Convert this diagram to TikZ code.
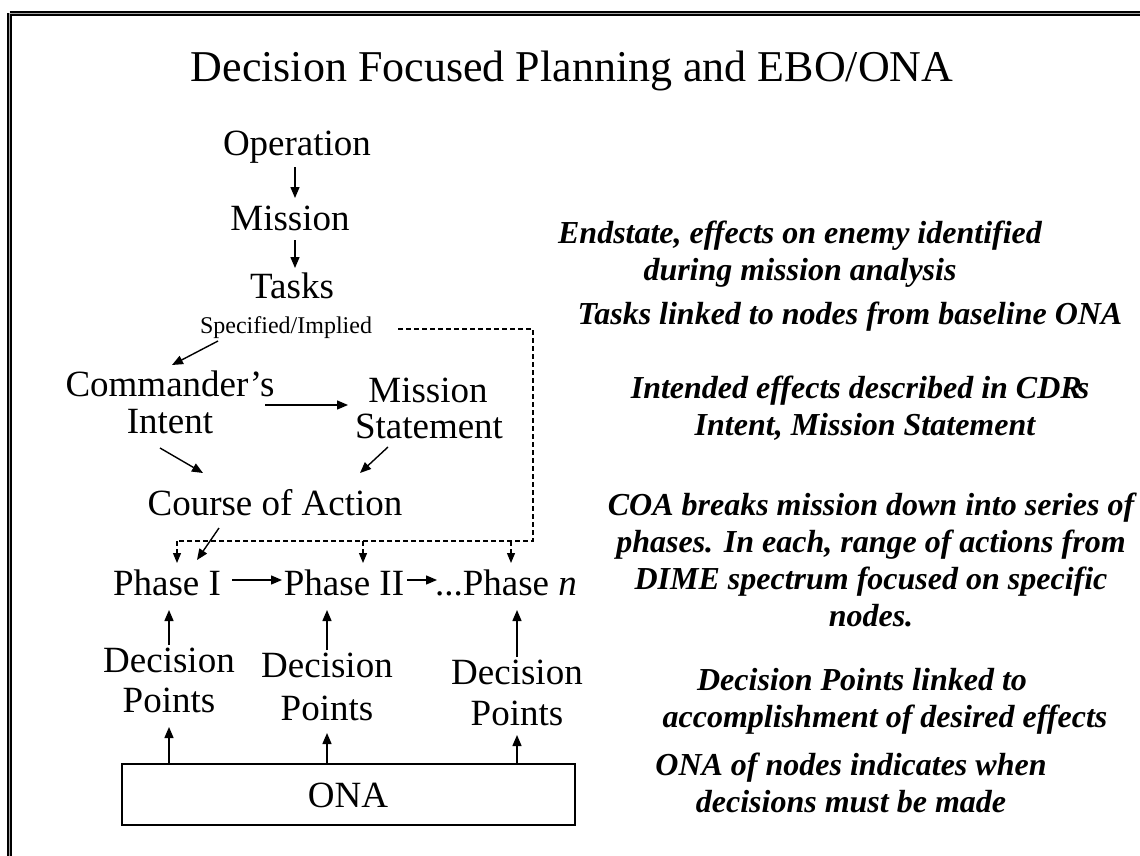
\documentclass[tikz,border=0pt]{standalone}
\usepackage{fontspec}
\setmainfont{Liberation Serif}
\usetikzlibrary{arrows.meta,calc}
\begin{document}
\begin{tikzpicture}[x=1pt,y=-1pt,
  lbl/.style={anchor=base,inner sep=0pt,font=\fontsize{37}{40}\selectfont},
  small/.style={anchor=base,inner sep=0pt,font=\fontsize{24}{26}\selectfont},
  ttl/.style={anchor=base,inner sep=0pt,font=\fontsize{44}{48}\selectfont},
  note/.style={anchor=base,inner sep=0pt,font=\fontsize{32}{37}\selectfont\bfseries\itshape},
  arr/.style={line width=1.4pt,-{Triangle[length=11pt,width=9pt]}},
  dsh/.style={line width=1.2pt,dash pattern=on 5pt off 3pt},
  dsharr/.style={dsh,-{Triangle[length=10pt,width=8pt]}},
]
\useasboundingbox (0,0) rectangle (1140,856);
% slide frame: black rule with a grey core
\draw[line width=4.5pt] (9.5,13.5) -- (1140,13.5);
\draw[line width=4.5pt] (9.5,13.5) -- (9.5,856);
\draw[line width=1.3pt,gray!70] (9.5,13.5) -- (1140,13.5);
\draw[line width=1.3pt,gray!70] (9.5,13.5) -- (9.5,856);

\node[ttl] (title) at (572,82) {Decision Focused Planning and EBO/ONA};

% planning chain
\node[lbl] (op) at (297,155) {Operation};
\node[lbl] (mis) at (290,230) {Mission};
\node[lbl] (tasks) at (292,298) {Tasks};
\node[small] (spec) at (286,333) {Specified/Implied};
\node[lbl] (ci1) at (170,396) {Commander’s};
\node[lbl] (ci2) at (170,433) {Intent};
\node[lbl] (ms1) at (428,402) {Mission};
\node[lbl] (ms2) at (429,438) {Statement};
\node[lbl] (coa) at (275,515) {Course of Action};
\node[lbl] (ph1) at (167,595) {Phase I};
\node[lbl] (ph2) at (344,595) {Phase II};
\node[lbl] (ph3) at (506,595) {...Phase \textit{n}};
\node[lbl] (dp1a) at (169,672) {Decision};
\node[lbl] (dp1b) at (169,712) {Points};
\node[lbl] (dp2a) at (327,677) {Decision};
\node[lbl] (dp2b) at (327,720) {Points};
\node[lbl] (dp3a) at (517,684) {Decision};
\node[lbl] (dp3b) at (517,725) {Points};
\draw[line width=1.6pt] (122,764) rectangle (575,825);
\node[lbl] (ona) at (348,807) {ONA};
\coordinate (onatop1) at (169,764);
\coordinate (onatop2) at (327,764);
\coordinate (onatop3) at (517,764);

% connectors
\draw[arr] ($(op.base)+(-2,12)$) -- ($(mis.base)+(5,-32)$);
\draw[arr] ($(mis.base)+(5,10)$) -- ($(tasks.base)+(3,-30)$);
\draw[arr] ($(spec.base)+(-68,8)$) -- ($(ci1.base)+(2,-31)$);
\draw[arr] ($(ci1.base)+(95,9)$) -- ($(ms1.base)+(-80,3)$);
\draw[arr] ($(ci2.base)+(-10,15)$) -- ($(coa.base)+(-72,-42)$);
\draw[arr] ($(ms2.base)+(-41,9)$) -- ($(coa.base)+(85,-42)$);
\draw[arr] ($(coa.base)+(-56,13)$) -- ($(ph1.base)+(30,-35)$);
\draw[arr] ($(ph1.base)+(65,-15)$) -- ($(ph2.base)+(-62,-15)$);
\draw[arr] ($(ph2.base)+(63,-15)$) -- ($(ph3.base)+(-69,-15)$);
\draw[arr] ($(dp1a.base)+(0,-27)$) -- ($(ph1.base)+(2,15)$);
\draw[arr] ($(dp2a.base)+(0,-27)$) -- ($(ph2.base)+(-17,15)$);
\draw[arr] ($(dp3a.base)+(0,-27)$) -- ($(ph3.base)+(11,15)$);
\draw[arr] (onatop1) -- ($(dp1b.base)+(0,15)$);
\draw[arr] (onatop2) -- ($(dp2b.base)+(0,13)$);
\draw[arr] (onatop3) -- ($(dp3b.base)+(0,10)$);

% dashed feed from tasks to every phase
\coordinate (dA) at (398,329);
\coordinate (dB) at (533,329);
\coordinate (dC) at (533,541);
\coordinate (dD) at (177,541);
\coordinate (d2) at (363,541);
\coordinate (d3) at (511,541);
\draw[dsh] (dA) -- (dB) -- (dC) -- (dD);
\draw[dsharr] (dD) -- ($(ph1.base)+(10,-32)$);
\draw[dsharr] (d2) -- ($(ph2.base)+(19,-32)$);
\draw[dsharr] (d3) -- ($(ph3.base)+(5,-32)$);

% commentary
\node[note] (n1a) at (800,243) {Endstate, effects on enemy identified};
\node[note] (n1b) at (800,280) {during mission analysis};
\node[note] (n2) at (850,324) {Tasks linked to nodes from baseline ONA};
\node[note] (n3a) at (860,398) {Intended effects described in CDR\kern-5pt s};
\node[note] (n3b) at (865,435) {Intent, Mission Statement};
\node[note] (n4a) at (871,515) {COA breaks mission down into series of};
\node[note] (n4b) at (871,552) {phases. In each, range of actions from};
\node[note] (n4c) at (871,589) {DIME spectrum focused on specific};
\node[note] (n4d) at (871,626) {nodes.};
\node[note] (n5a) at (862,690) {Decision Points linked to};
\node[note] (n5b) at (885,727) {accomplishment of desired effects};
\node[note] (n6a) at (851,775) {ONA of nodes indicates when};
\node[note] (n6b) at (851,812) {decisions must be made};
\end{tikzpicture}
\end{document}
